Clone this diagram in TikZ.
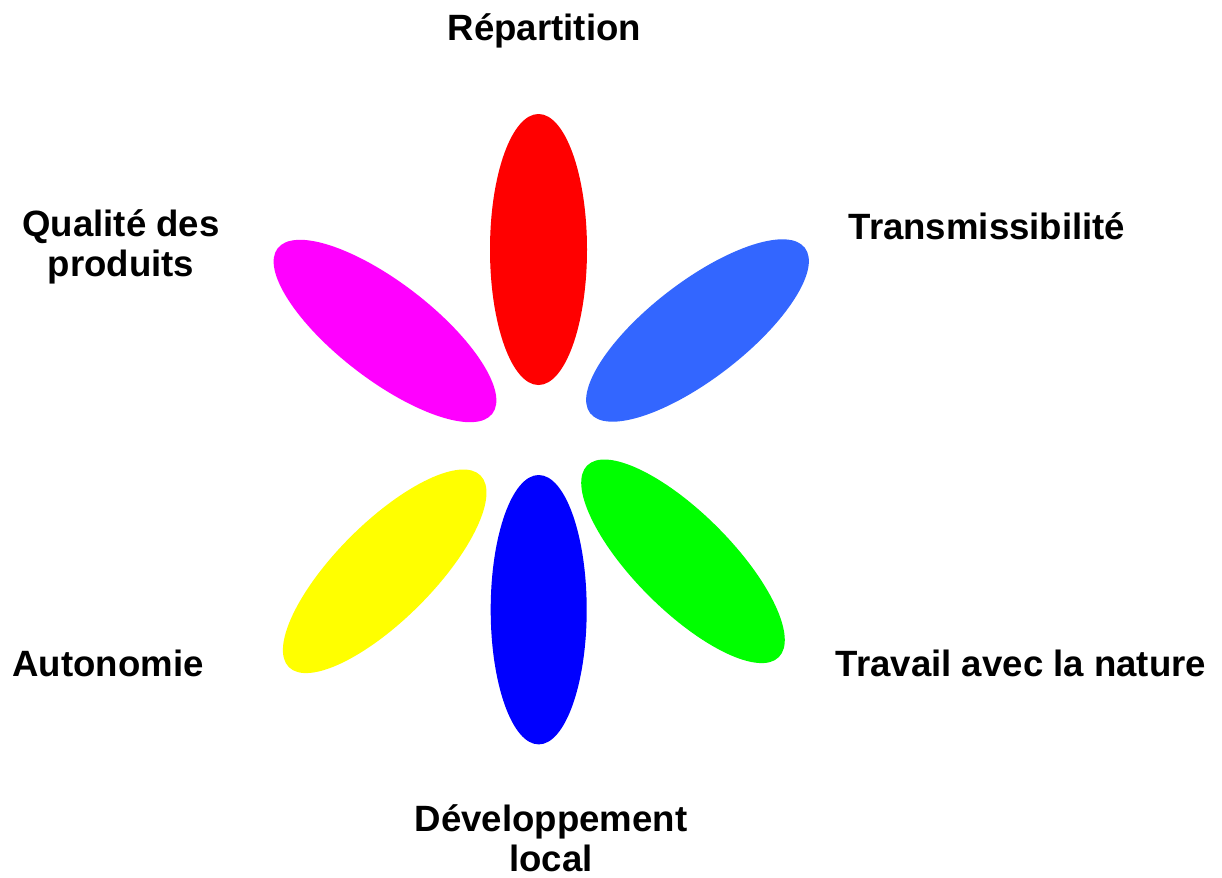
\documentclass[tikz,border=0pt]{standalone}
\usepackage{fontspec}
\setmainfont{Liberation Sans}
\usepackage{tikz}

\begin{document}
\begin{tikzpicture}[x=0.75pt,y=0.75pt,yscale=-1,xscale=1]
\useasboundingbox (0,0) rectangle (1222,878);
\tikzset{lbl/.style={anchor=base,inner sep=0.75pt,align=center,font=\fontsize{27.45}{29.7}\selectfont\bfseries}}

%Shape: Ellipse [petal top]
\fill [fill={rgb, 255:red, 255; green, 0; blue, 0 }] (538.5,249.5) ellipse [x radius=48.5, y radius=135.5];
%Shape: Ellipse [petal top right]
\fill [fill={rgb, 255:red, 51; green, 102; blue, 255 }, rotate around={-37.6:(697.5,330.5)}] (697.5,330.5) ellipse [x radius=135.5, y radius=48.5];
%Shape: Ellipse [petal top left]
\fill [fill={rgb, 255:red, 255; green, 0; blue, 255 }, rotate around={37.6:(385,331)}] (385,331) ellipse [x radius=135.5, y radius=48.5];
%Shape: Ellipse [petal bottom right]
\fill [fill={rgb, 255:red, 0; green, 255; blue, 0 }, rotate around={45:(683,561.3)}] (683,561.3) ellipse [x radius=135.5, y radius=48.5];
%Shape: Ellipse [petal bottom left]
\fill [fill={rgb, 255:red, 255; green, 255; blue, 0 }, rotate around={-45:(384.7,571.3)}] (384.7,571.3) ellipse [x radius=135.5, y radius=48.5];
%Shape: Ellipse [petal bottom]
\fill [fill={rgb, 255:red, 0; green, 0; blue, 255 }] (538.7,609.7) ellipse [x radius=48, y radius=134.7];

% Text Node
\draw (544.4,40.5) node (repartition) [lbl] {Répartition};
% Text Node
\draw (121,276) node (qualite) [lbl] {Qualité des\\produits};
% Text Node
\draw (987,239.5) node (transmission) [lbl] {Transmissibilité};
% Text Node
\draw (108,676) node (autonomie) [lbl] {Autonomie};
% Text Node
\draw (1021,676) node (nature) [lbl] {Travail avec la nature};
% Text Node
\draw (551,871.5) node (developpement) [lbl] {Développement\\local};

\end{tikzpicture}
\end{document}
